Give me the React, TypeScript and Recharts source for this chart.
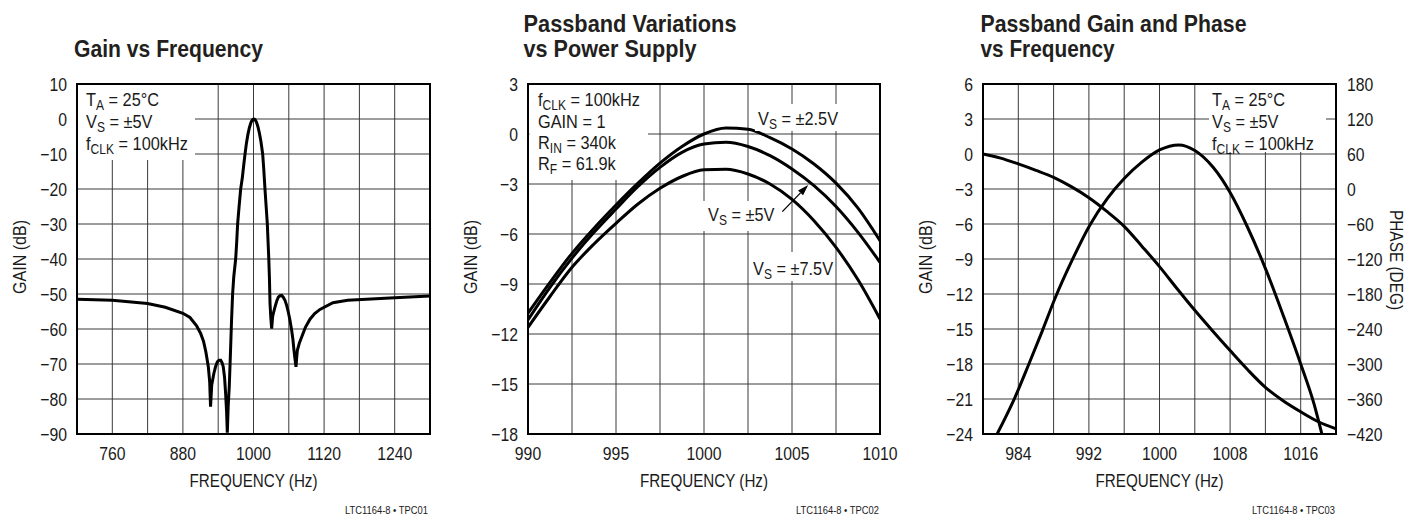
import React from 'react';
import { LineChart, Line, XAxis, YAxis, CartesianGrid, ReferenceArea, ReferenceLine } from 'recharts';

const FONT = "'Liberation Sans', Arial, Helvetica, sans-serif";

// ---------- Chart 1: Gain vs Frequency ----------
const c1Freq = [700, 760, 820, 850, 880, 892, 903, 910, 915, 919, 923.2, 925.5, 927, 929, 932.6, 935.5, 938.5, 941.5, 944.2, 946.5, 948.6, 950.8, 952.6, 954.2, 955.5, 957, 958.8, 960.8, 962.7, 964.5, 966.5, 969.7, 971.5, 973, 975.5, 978.2, 981, 983.5, 985.6, 988, 990.5, 993, 995.5, 997.5, 999, 1000.5, 1002, 1003, 1005, 1007.5, 1010, 1012.5, 1015.6, 1017.5, 1019.5, 1021.5, 1023.5, 1025, 1026, 1027, 1028.1, 1029.5, 1030.9, 1032.5, 1034.5, 1036.6, 1039.5, 1042.2, 1045, 1047.9, 1050.5, 1053.5, 1056.5, 1059.2, 1062, 1064.9, 1067, 1068.8, 1070.5, 1072.2, 1073.5, 1074.5, 1078, 1081.9, 1088, 1096, 1104, 1113, 1135, 1160, 1192, 1240, 1300];
const c1Gain = [-51.5, -51.8, -52.7, -53.8, -55.5, -56.7, -59, -61.2, -63.5, -66.5, -70.8, -75, -82.2, -76, -72.7, -70.8, -69.4, -68.9, -68.9, -69.6, -70.8, -73.8, -78.4, -83.5, -89.6, -82, -76.5, -67, -57.5, -50, -45, -40, -35, -30, -25, -20, -16.8, -13, -10, -6.9, -4.4, -2.5, -1.1, -0.4, -0.1, 0, -0.1, -0.27, -0.9, -2.2, -4.0, -6.3, -10, -14.5, -20, -25, -30, -36, -40, -45, -52.8, -57, -59.9, -56.5, -55, -53.7, -52, -50.9, -50.5, -50.4, -50.9, -51.8, -53.3, -55.2, -57.5, -60.4, -63, -66.1, -68.5, -70.8, -68, -66.1, -64, -62.3, -59.6, -57.2, -55.6, -54.4, -52.5, -51.8, -51.5, -51.1, -50.6];
const c1XGrid = [700, 760, 820, 880, 940, 1000, 1060, 1120, 1180, 1240, 1300];
const c1XLabels = [760, 880, 1000, 1120, 1240];
const c1YTicks = [10, 0, -10, -20, -30, -40, -50, -60, -70, -80, -90];

// ---------- Chart 2: Passband Variations vs Power Supply ----------
const c2Freq = [990, 991.25, 992.5, 993.75, 995, 996.25, 997.5, 998.75, 1000, 1001.25, 1002.5, 1003.75, 1005, 1006.25, 1007.5, 1008.75, 1010];
const c2Vs25 = [-10.75, -8.9, -7.16, -5.65, -4.26, -2.95, -1.75, -0.75, 0.0, 0.36, 0.28, -0.22, -0.9, -1.8, -2.95, -4.45, -6.4];
const c2Vs5 = [-11.15, -9.2, -7.45, -5.9, -4.5, -3.15, -2.0, -1.1, -0.6, -0.5, -0.75, -1.3, -2.1, -3.1, -4.35, -5.9, -7.7];
const c2Vs75 = [-11.6, -9.75, -8.0, -6.6, -5.36, -4.2, -3.26, -2.55, -2.15, -2.12, -2.4, -3.0, -3.92, -5.2, -6.8, -8.75, -11.1];
const c2XGrid = [990, 992.5, 995, 997.5, 1000, 1002.5, 1005, 1007.5, 1010];
const c2XLabels = [990, 995, 1000, 1005, 1010];
const c2YTicks = [3, 0, -3, -6, -9, -12, -15, -18];

// ---------- Chart 3: Passband Gain and Phase vs Frequency ----------
const c3GainFreq = [981.6, 983.6, 985.2, 986.7, 988.2, 990.1, 992.1, 994.1, 996, 998, 1000, 1002.2, 1004, 1006.1, 1008, 1009.9, 1012.1, 1014.1, 1016, 1017.5, 1018.4];
const c3Gain = [-24, -20.9, -18, -15.2, -12.3, -9.1, -6.1, -3.8, -2.1, -0.7, 0.35, 0.78, 0.3, -1.16, -3.3, -6.15, -10, -14, -18, -21.4, -24];
const c3PhaseFreq = [980, 982, 984, 986, 988, 990, 992, 994, 996, 998, 1000, 1002, 1004, 1006, 1008, 1010, 1012, 1014, 1016, 1018, 1020];
const c3Phase = [60, 53, 43, 32, 20, 4, -15, -38, -64, -98, -133, -171, -208, -243, -277, -310, -340, -363, -382, -399, -411];
const c3XGrid = [980, 984, 988, 992, 996, 1000, 1004, 1008, 1012, 1016, 1020];
const c3XLabels = [984, 992, 1000, 1008, 1016];
const c3GainTicks = [6, 3, 0, -3, -6, -9, -12, -15, -18, -21, -24];
const c3PhaseTicks = [180, 120, 60, 0, -60, -120, -180, -240, -300, -360, -420];

const c1Data = c1Freq.map((f, i) => ({ f, g: c1Gain[i] }));
const c2Data = c2Freq.map((f, i) => ({ f, a: c2Vs25[i], b: c2Vs5[i], c: c2Vs75[i] }));
const c3GainData = c3GainFreq.map((f, i) => ({ f, g: c3Gain[i] }));
const c3PhaseData = c3PhaseFreq.map((f, i) => ({ f, p: c3Phase[i] }));

const minus = (v: number) => String(v).replace('-', '\u2212');
const xFmt = (labels: number[]) => (v: number) => (labels.includes(v) ? String(v) : '');
const GRID = '#3a3a3a';
const INK = '#1a1a1a';

const mkTick = (kind: 'x' | 'yl' | 'yr', fmt: (v: number) => string) => (props: any) => {
  const { x, y, payload } = props;
  const label = fmt(payload.value);
  if (!label) return <g />;
  const anchor = kind === 'x' ? 'middle' : kind === 'yl' ? 'end' : 'start';
  const by = kind === 'x' ? y + 13 : y + 7;
  return (
    <text transform={`translate(${x},${by}) scale(0.83,1)`} textAnchor={anchor} fontSize={19} fontFamily={FONT} fill={INK}>
      {label}
    </text>
  );
};

const Arrow = (p: any) => {
  const { x1, y1, x2, y2 } = p;
  const ang = Math.atan2(y2 - y1, x2 - x1);
  const L = 11, W = 3.5;
  const bx = x2 - L * Math.cos(ang), by = y2 - L * Math.sin(ang);
  const px = -Math.sin(ang) * W, py = Math.cos(ang) * W;
  return (
    <g>
      <line x1={x1} y1={y1} x2={bx} y2={by} stroke="#000" strokeWidth={1.3} />
      <polygon points={`${x2},${y2} ${bx + px},${by + py} ${bx - px},${by - py}`} fill="#000" />
    </g>
  );
};

const Sub = ({ children }: { children: React.ReactNode }) => (
  <tspan fontSize={14} dy={4}>{children}</tspan>
);
const Up = ({ children }: { children: React.ReactNode }) => <tspan dy={-4}>{children}</tspan>;

const N = ({ x, y, size = 19, sx = 0.86, anchor = 'start', rot = 0, len, children }: any) => (
  <text
    transform={`translate(${x},${y}) rotate(${rot}) scale(${sx},1)`}
    fontSize={size}
    textAnchor={anchor}
    textLength={len ? len / sx : undefined}
    lengthAdjust={len ? 'spacingAndGlyphs' : undefined}
  >
    {children}
  </text>
);

export default function App() {
  return (
    <div style={{ position: 'absolute', left: 0, top: 0, width: 1410, height: 516, background: '#fff', overflow: 'hidden', fontFamily: FONT }}>
      {/* Chart 1 */}
      <div style={{ position: 'absolute', left: 0, top: 0 }}>
        <LineChart width={470} height={516} margin={{ top: 84, right: 40, bottom: 42, left: 17 }}>
          <CartesianGrid stroke={GRID} strokeWidth={1} />
          <XAxis type="number" dataKey="f" domain={[700, 1300]} ticks={c1XGrid} interval={0} axisLine={false} tickLine={false} tick={mkTick('x', xFmt(c1XLabels))} tickMargin={7} height={40} allowDataOverflow />
          <YAxis type="number" domain={[-90, 10]} ticks={c1YTicks} interval={0} axisLine={false} tickLine={false} tick={mkTick('yl', minus)} tickMargin={4} width={60} allowDataOverflow />
          <Line data={c1Data} dataKey="g" type="linear" stroke="#000" strokeWidth={3} dot={false} isAnimationActive={false} />
          <ReferenceArea x1={700} x2={1300} y1={-90} y2={10} fill="none" fillOpacity={0} stroke="#000" strokeWidth={2} ifOverflow="visible" />
        </LineChart>
      </div>

      {/* Chart 2 */}
      <div style={{ position: 'absolute', left: 470, top: 0 }}>
        <LineChart width={470} height={516} margin={{ top: 84, right: 60, bottom: 42, left: 8 }}>
          <CartesianGrid stroke={GRID} strokeWidth={1} />
          <XAxis type="number" dataKey="f" domain={[990, 1010]} ticks={c2XGrid} interval={0} axisLine={false} tickLine={false} tick={mkTick('x', xFmt(c2XLabels))} tickMargin={7} height={40} allowDataOverflow />
          <YAxis type="number" domain={[-18, 3]} ticks={c2YTicks} interval={0} axisLine={false} tickLine={false} tick={mkTick('yl', minus)} tickMargin={4} width={50} allowDataOverflow />
          <Line data={c2Data} dataKey="a" type="monotone" stroke="#000" strokeWidth={3} dot={false} isAnimationActive={false} />
          <Line data={c2Data} dataKey="b" type="monotone" stroke="#000" strokeWidth={3} dot={false} isAnimationActive={false} />
          <Line data={c2Data} dataKey="c" type="monotone" stroke="#000" strokeWidth={3} dot={false} isAnimationActive={false} />
          <ReferenceLine segment={[{ x: 1004.45, y: -4.66 }, { x: 1005.92, y: -3.06 }]} shape={Arrow} ifOverflow="visible" />
          <ReferenceArea x1={990} x2={1010} y1={-18} y2={3} fill="none" fillOpacity={0} stroke="#000" strokeWidth={2} ifOverflow="visible" />
        </LineChart>
      </div>

      {/* Chart 3 */}
      <div style={{ position: 'absolute', left: 940, top: 0 }}>
        <LineChart width={470} height={516} margin={{ top: 84, right: 10, bottom: 42, left: 3 }}>
          <CartesianGrid stroke={GRID} strokeWidth={1} yAxisId="left" />
          <XAxis type="number" dataKey="f" domain={[980, 1020]} ticks={c3XGrid} interval={0} axisLine={false} tickLine={false} tick={mkTick('x', xFmt(c3XLabels))} tickMargin={7} height={40} allowDataOverflow />
          <YAxis yAxisId="left" type="number" domain={[-24, 6]} ticks={c3GainTicks} interval={0} axisLine={false} tickLine={false} tick={mkTick('yl', minus)} tickMargin={4} width={40} allowDataOverflow />
          <YAxis yAxisId="right" orientation="right" type="number" domain={[-420, 180]} ticks={c3PhaseTicks} interval={0} axisLine={false} tickLine={false} tick={mkTick('yr', minus)} tickMargin={5} width={64} allowDataOverflow />
          <Line yAxisId="left" data={c3GainData} dataKey="g" type="monotone" stroke="#000" strokeWidth={3} dot={false} isAnimationActive={false} />
          <Line yAxisId="right" data={c3PhaseData} dataKey="p" type="monotone" stroke="#000" strokeWidth={3} dot={false} isAnimationActive={false} />
          <ReferenceArea yAxisId="left" x1={980} x2={1020} y1={-24} y2={6} fill="none" fillOpacity={0} stroke="#000" strokeWidth={2} ifOverflow="visible" />
        </LineChart>
      </div>

      {/* Text overlay: titles, annotations, axis titles, footnotes */}
      <svg width={1410} height={516} style={{ position: 'absolute', left: 0, top: 0, pointerEvents: 'none' }} fontFamily={FONT} fill={INK}>
        <g fontWeight="bold" fontSize={24} fill="#231f20">
          <text x={74} y={56.5} textLength={189} lengthAdjust="spacingAndGlyphs">Gain vs Frequency</text>
          <text x={523.5} y={31.5} textLength={213} lengthAdjust="spacingAndGlyphs">Passband Variations</text>
          <text x={523.5} y={56.5} textLength={173} lengthAdjust="spacingAndGlyphs">vs Power Supply</text>
          <text x={980.5} y={31.5} textLength={266} lengthAdjust="spacingAndGlyphs">Passband Gain and Phase</text>
          <text x={980.5} y={56.5} textLength={134} lengthAdjust="spacingAndGlyphs">vs Frequency</text>
        </g>

        {/* annotation backgrounds */}
        <rect x={78} y={85} width={117} height={75} fill="#fff" />
        <rect x={529.5} y={85} width={118.5} height={55} fill="#fff" />
        <rect x={529.5} y={140} width={92} height={40} fill="#fff" />
        <rect x={1209} y={85} width={117} height={67} fill="#fff" />
        <rect x={755} y={104} width={88} height={27} fill="#fff" />
        <rect x={703} y={201} width={77} height={30} fill="#fff" />
        <rect x={751} y={252} width={83} height={29} fill="#fff" />

        <g fill={INK}>
          <N x={86} y={106}>T<Sub>A</Sub><Up> = 25°C</Up></N>
          <N x={86} y={128}>V<Sub>S</Sub><Up> = ±5V</Up></N>
          <N x={86} y={150}>f<Sub>CLK</Sub><Up> = 100kHz</Up></N>

          <N x={538} y={106}>f<Sub>CLK</Sub><Up> = 100kHz</Up></N>
          <N x={538} y={127.5}>GAIN = 1</N>
          <N x={538} y={149}>R<Sub>IN</Sub><Up> = 340k</Up></N>
          <N x={538} y={170}>R<Sub>F</Sub><Up> = 61.9k</Up></N>

          <N x={1212} y={106}>T<Sub>A</Sub><Up> = 25°C</Up></N>
          <N x={1212} y={128}>V<Sub>S</Sub><Up> = ±5V</Up></N>
          <N x={1212} y={150}>f<Sub>CLK</Sub><Up> = 100kHz</Up></N>

          <N x={758} y={125}>V<Sub>S</Sub><Up> = ±2.5V</Up></N>
          <N x={708} y={221}>V<Sub>S</Sub><Up> = ±5V</Up></N>
          <N x={753} y={275}>V<Sub>S</Sub><Up> = ±7.5V</Up></N>

          <N x={253.5} y={487} anchor="middle" len={128}>FREQUENCY (Hz)</N>
          <N x={704} y={487} anchor="middle" len={128}>FREQUENCY (Hz)</N>
          <N x={1159.5} y={487} anchor="middle" len={128}>FREQUENCY (Hz)</N>

          <N x={25.8} y={257} anchor="middle" rot={-90} len={74}>GAIN (dB)</N>
          <N x={476.8} y={257} anchor="middle" rot={-90} len={74}>GAIN (dB)</N>
          <N x={931.8} y={257} anchor="middle" rot={-90} len={74}>GAIN (dB)</N>
          <N x={1390} y={260} anchor="middle" rot={90} len={100}>PHASE (DEG)</N>
        </g>

        <g fill={INK}>
          <N x={428} y={514} size={11} anchor="end" len={83}>LTC1164-8 • TPC01</N>
          <N x={879} y={514} size={11} anchor="end" len={83}>LTC1164-8 • TPC02</N>
          <N x={1335} y={514} size={11} anchor="end" len={83}>LTC1164-8 • TPC03</N>
        </g>
      </svg>
    </div>
  );
}
